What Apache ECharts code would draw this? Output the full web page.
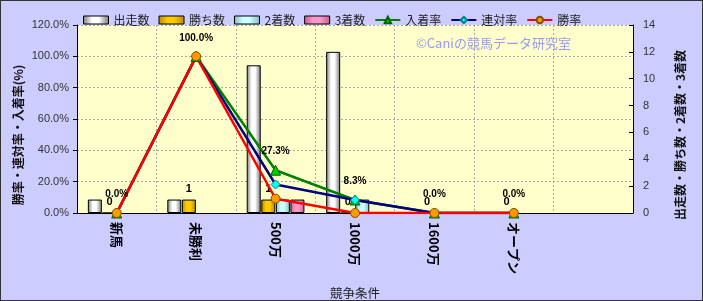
<!DOCTYPE html>
<html><head><meta charset="utf-8">
<script src="https://cdn.jsdelivr.net/npm/echarts@6/dist/echarts.min.js"></script>
<style>
html,body{margin:0;padding:0;background:#ccccff;}
#c{width:703px;height:301px;box-sizing:border-box;border:1px solid #333;}
</style></head><body>
<div id="c"></div>
<script>
const categories = ['新馬','未勝利','500万','1000万','1600万','オープン',''];
const runs   = [1, 1, 11, 12, 0, 0, null];
const wins   = [0, 1, 1, 0, 0, 0, null];
const second = [0, 0, 1, 1, 0, 0, null];
const third  = [0, 0, 1, 0, 0, 0, null];
const placeRate = [0, 100, 27.3, 8.3, 0, 0, null];
const rentaiRate = [0, 100, 18.2, 8.3, 0, 0, null];
const winRate = [0, 100, 9.1, 0, 0, 0, null];
const leftAxisName = '勝率・連対率・入着率(%)';
const rightAxisName = '出走数・勝ち数・2着数・3着数';

const FONT = "'Liberation Sans','Noto Sans CJK JP',sans-serif";
const JP = "'Noto Sans CJK JP',sans-serif";

function cyl(edge, mid){
  return new echarts.graphic.LinearGradient(0,0,1,0,[
    {offset:0,color:edge},{offset:0.35,color:mid},{offset:0.6,color:mid},{offset:1,color:edge}]);
}
function zeroless(v){ return v === 0 ? {value:0, itemStyle:{borderWidth:0, opacity:0}} : v; }
const chart = echarts.init(document.getElementById('c'), null, {renderer:'canvas'});
const barBase = {type:'bar', yAxisIndex:1, barWidth:14, barGap:'4%', barCategoryGap:'27%'};
chart.setOption({
  animation:false,
  textStyle:{fontFamily:FONT},
  grid:{left:76, right:69, top:24, bottom:87, show:true, backgroundColor:'#ffffcc', borderWidth:0,
        outerBoundsMode:'none', containLabel:false},
  legend:{
    left:77, top:8, itemGap:9, itemWidth:25, itemHeight:8,
    textStyle:{fontSize:12, color:'#222', fontFamily:JP},
    data:[
      {name:'出走数', icon:'rect', itemStyle:{color:cyl('#777','#fff'), borderColor:'#000', borderWidth:1}},
      {name:'勝ち数', icon:'rect', itemStyle:{color:cyl('#b88a00','#ffcc00'), borderColor:'#000', borderWidth:1}},
      {name:'2着数', icon:'rect', itemStyle:{color:cyl('#88bbbb','#ccffff'), borderColor:'#000', borderWidth:1}},
      {name:'3着数', icon:'rect', itemStyle:{color:cyl('#c06090','#ff99cc'), borderColor:'#000', borderWidth:1}},
      '入着率','連対率','勝率'
    ]
  },
  graphic:[
    {type:'text', left:415, top:36, style:{text:'©Caniの競馬データ研究室', fill:'#9a9af0', font:'13px '+JP}},
    {type:'text', x:17, y:134, rotation:Math.PI/2, style:{text:leftAxisName, align:'center', verticalAlign:'middle', fill:'#111', font:'bold 12px '+JP}},
    {type:'text', x:679, y:134, rotation:Math.PI/2, style:{text:rightAxisName, align:'center', verticalAlign:'middle', fill:'#111', font:'bold 12px '+JP}}
  ],
  xAxis:{
    type:'category', data:categories,
    axisLine:{lineStyle:{color:'#000', width:1}},
    axisTick:{show:false},
    axisLabel:{rotate:-90, color:'#000', fontSize:13, fontWeight:'bold', fontFamily:JP, margin:9},
    splitLine:{show:true, lineStyle:{color:'#aaa', type:[2,2]}},
    name:'競争条件', nameLocation:'middle', nameGap:74,
    nameTextStyle:{fontSize:12.5, color:'#222', fontFamily:JP}
  },
  yAxis:[
    {type:'value', min:0, max:120, interval:20,
     axisLine:{show:true, lineStyle:{color:'#000'}},
     axisTick:{show:true, length:4, lineStyle:{color:'#000'}},
     axisLabel:{formatter:v=>v.toFixed(1)+'%', color:'#333', fontSize:11, margin:8},
     splitLine:{show:true, lineStyle:{color:'#aaa', type:[2,2]}}},
    {type:'value', min:0, max:14, interval:2, position:'right',
     axisLine:{show:true, lineStyle:{color:'#000'}},
     axisTick:{show:true, inside:true, length:4, lineStyle:{color:'#000'}},
     axisLabel:{color:'#333', fontSize:11, margin:10},
     splitLine:{show:false}}
  ],
  series:[
    Object.assign({name:'出走数', data:runs.map(zeroless), itemStyle:{color:cyl('#777','#fff'), borderColor:'#000', borderWidth:1}}, barBase),
    Object.assign({name:'勝ち数', data:wins, itemStyle:{color:cyl('#b88a00','#ffcc00'), borderColor:'#000', borderWidth:1},
      label:{show:true, position:'top', color:'#000', fontSize:11, fontWeight:'bold', distance:5}}, barBase),
    Object.assign({name:'2着数', data:second.map(zeroless), itemStyle:{color:cyl('#88bbbb','#ccffff'), borderColor:'#000', borderWidth:1}}, barBase),
    Object.assign({name:'3着数', data:third.map(zeroless), itemStyle:{color:cyl('#c06090','#ff99cc'), borderColor:'#000', borderWidth:1}}, barBase),
    {name:'入着率', type:'line', data:placeRate, color:'#008000', lineStyle:{width:2.5, color:'#008000'},
     symbol:'triangle', symbolSize:10, itemStyle:{color:'#00cc00', borderColor:'#006000', borderWidth:1},
     label:{show:true, position:'top', distance:8, formatter:p=>p.value.toFixed(1)+'%', color:'#000', fontSize:10, fontWeight:'bold'}},
    {name:'連対率', type:'line', data:rentaiRate, color:'#000080', lineStyle:{width:2.5, color:'#000080'},
     symbol:'diamond', symbolSize:9, itemStyle:{color:'#00ffff', borderColor:'#008080', borderWidth:1}},
    {name:'勝率', type:'line', data:winRate, color:'#ff0000', lineStyle:{width:2.5, color:'#ff0000'},
     symbol:'circle', symbolSize:9, itemStyle:{color:'#ff9900', borderColor:'#805000', borderWidth:1}}
  ]
});
</script></body></html>
